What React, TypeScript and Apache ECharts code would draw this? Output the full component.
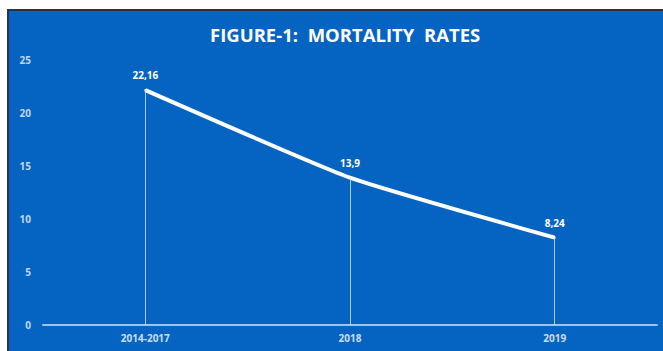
import React, { useEffect, useRef } from "react";
import * as echarts from "echarts";

const categories = ["2014-2017", "2018", "2019"];
const mortality = [22.16, 13.9, 8.24];
const yTicks = [0, 5, 10, 15, 20, 25];
const titleText = "FIGURE-1:  MORTALITY  RATES";

export default function App() {
  const ref = useRef<HTMLDivElement>(null);
  useEffect(() => {
    if (!ref.current) return;
    const chart = echarts.init(ref.current, undefined, { renderer: "svg" });
    const dropLines = mortality.map((v, i) => [
      { coord: [i, v] },
      { coord: [i, 0] },
    ]);
    chart.setOption({
      animation: false,
      backgroundColor: "#0563C1",
      title: {
        text: titleText,
        left: 196,
        top: 9,
        textStyle: {
          color: "#ffffff",
          fontFamily: "Open Sans",
          fontWeight: "bold",
          fontSize: 18.5,
        },
      },
      grid: { left: 34, right: 6, top: 49, bottom: 26 },
      xAxis: {
        type: "category",
        data: categories,
        boundaryGap: true,
        axisLine: { lineStyle: { color: "#9dc3e6", width: 2 } },
        axisTick: { show: false },
        axisLabel: {
          color: "rgba(255,255,255,0.8)",
          fontFamily: "Open Sans",
          fontWeight: "bold",
          fontSize: 10,
          margin: 8,
        },
      },
      yAxis: {
        type: "value",
        min: yTicks[0],
        max: yTicks[yTicks.length - 1],
        interval: 5,
        splitLine: { show: false },
        axisLine: { show: false },
        axisTick: { show: false },
        axisLabel: {
          color: "rgba(255,255,255,0.75)",
          fontFamily: "Open Sans",
          fontWeight: "bold",
          fontSize: 10,
          margin: 12,
        },
      },
      series: [
        {
          type: "line",
          data: mortality,
          smooth: 0.15,
          symbol: "circle",
          symbolSize: 2,
          showSymbol: true,
          itemStyle: { color: "#ffffff" },
          lineStyle: { color: "#ffffff", width: 4 },
          label: {
            show: true,
            position: "top",
            distance: 9,
            color: "#ffffff",
            fontFamily: "Open Sans",
            fontWeight: "bold",
            fontSize: 10,
            formatter: (p: any) => String(p.value).replace(".", ","),
          },
          markLine: {
            silent: true,
            symbol: "none",
            label: { show: false },
            lineStyle: { color: "rgba(220,235,250,0.75)", width: 1, type: "solid" },
            data: dropLines,
          },
        },
      ],
    });
    return () => chart.dispose();
  }, []);

  return (
    <div style={{ position: "fixed", left: 0, top: 0, width: 663, height: 351, background: "#ffffff", overflow: "hidden" }}>
      <div
        style={{
          position: "absolute",
          left: 7,
          top: 9,
          width: 656,
          height: 342,
          boxSizing: "border-box",
          borderLeft: "2px solid #2a3440",
          borderTop: "2px solid #2a3440",
        }}
      >
        <div ref={ref} style={{ width: 654, height: 340 }} />
      </div>
    </div>
  );
}
